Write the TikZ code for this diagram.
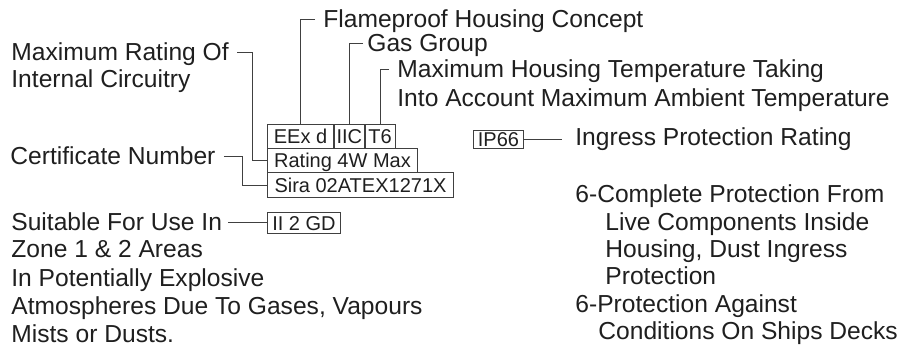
\documentclass[tikz,border=0pt]{standalone}
\usepackage{fontspec}
\setmainfont{Liberation Sans}
\usetikzlibrary{positioning}

\begin{document}
\begin{tikzpicture}[
    x=0.5pt, y=-0.5pt,
    lbl/.style={anchor=base west, inner sep=0pt, text height=0.72em, text depth=0pt, font=\fontsize{12.3}{14}\selectfont, text=black!88},
    tag/.style={draw=black!75, line width=0.5pt, inner sep=1pt, anchor=north west, minimum height=12pt, text height=0.72em, text depth=0pt, font=\fontsize{10}{12}\selectfont, text=black!88},
    wire/.style={draw=black!75, line width=0.5pt}
]
\useasboundingbox (0,0) rectangle (904,350);

% 1. marking boxes
\node[tag, minimum width=33pt] (eexd) at (267,124) {EEx d};
\node[tag, minimum width=14.5pt] (iic) at (eexd.north east) {IIC};
\node[tag, minimum width=15pt] (t6) at (iic.north east) {T6};
\node[tag, minimum width=75pt] (rating) at (267,148) {Rating 4W Max};
\node[tag, minimum width=93pt, minimum height=12.5pt] (sira) at (267,172) {Sira 02ATEX1271X};
\node[tag, minimum width=36.5pt, minimum height=10.5pt] (ii) at (267,212) {II 2 GD};
\node[tag, minimum width=25pt, minimum height=8.5pt] (ip) at (473,130) {IP66};

% 2. labels above and left
\node[lbl] (flame) at (323,27) {Flameproof Housing Concept};
\node[lbl] (gas) at (367,51) {Gas Group};
\node[lbl] (temp1) at (397,77) {Maximum Housing Temperature Taking};
\node[lbl] (temp2) at (397,106) {Into Account Maximum Ambient Temperature};
\node[lbl] (rat1) at (11,60) {Maximum Rating Of};
\node[lbl] (rat2) at (11,87) {Internal Circuitry};
\node[lbl] (cert) at (10,164) {Certificate Number};
\node[lbl] (ingress) at (575,145) {Ingress Protection Rating};

% 3. zone text
\node[lbl] (suit1) at (11,230) {Suitable For Use In};
\node[lbl] (suit2) at (11,257) {Zone 1 \& 2 Areas};
\node[lbl] (suit3) at (11,286) {In Potentially Explosive};
\node[lbl] (suit4) at (11,314) {Atmospheres Due To Gases, Vapours};
\node[lbl] (suit5) at (11,342) {Mists or Dusts.};

% 4. IP66 text
\node[lbl] (prot1) at (575,202) {6-Complete Protection From};
\node[lbl] (prot2) at (605,230) {Live Components Inside};
\node[lbl] (prot3) at (605,257) {Housing, Dust Ingress};
\node[lbl] (prot4) at (605,284) {Protection};
\node[lbl] (prot5) at (575,312) {6-Protection Against};
\node[lbl] (prot6) at (598,339) {Conditions On Ships Decks};

% 5. leader lines
\draw[wire] ([xshift=-4pt]flame.west) -| (eexd.north);
\draw[wire] ([xshift=-2pt]gas.west) -| (iic.north);
\draw[wire] ([xshift=-4pt]temp1.west) -| (t6.north);
\draw[wire] ([xshift=4pt]rat1.east) -- ++(15,0) |- (rating.west);
\draw[wire] ([xshift=4pt]cert.east) -- ++(19,0) |- (sira.west);
\draw[wire] ([xshift=3pt]suit1.east) -- (suit1.east -| ii.west);
\draw[wire] (ip.east) -- ([xshift=-6.5pt]ip.east -| ingress.west);

\end{tikzpicture}
\end{document}
